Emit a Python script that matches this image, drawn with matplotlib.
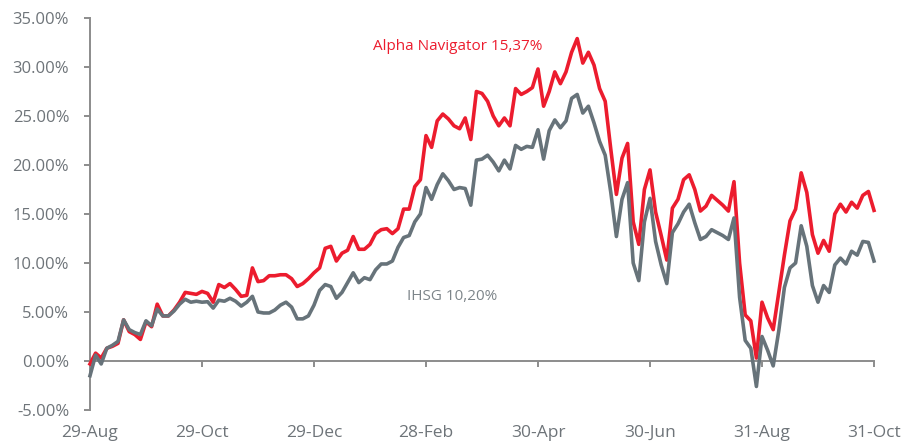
import matplotlib
matplotlib.use("Agg")
import matplotlib.pyplot as plt
import matplotlib.transforms as mtransforms
import numpy as np

plt.rcParams["font.family"] = ["Open Sans", "DejaVu Sans"]

# cumulative return (%), one value per sample
alpha_navigator = [
    -0.3, 0.8, 0.3, 1.3, 1.5, 1.8, 4.2, 3.0, 2.7, 2.2,
    4.0, 3.5, 5.8, 4.6, 4.6, 5.2, 6.0, 7.0, 6.9, 6.8,
    7.1, 6.9, 6.0, 7.8, 7.5, 7.9, 7.3, 6.6, 6.7, 9.5,
    8.1, 8.2, 8.7, 8.7, 8.8, 8.8, 8.4, 7.6, 7.9, 8.4,
    9.0, 9.5, 11.5, 11.7, 10.2, 11.0, 11.3, 12.7, 11.4, 11.4,
    11.9, 13.0, 13.4, 13.5, 13.0, 13.5, 15.5, 15.5, 17.8, 18.5,
    23.0, 21.8, 24.5, 25.2, 24.7, 24.0, 23.7, 24.8, 22.6, 27.5,
    27.3, 26.5, 25.0, 24.0, 24.8, 24.0, 27.8, 27.2, 27.5, 27.9,
    29.8, 26.0, 27.5, 29.5, 28.3, 29.5, 31.5, 32.9, 30.4, 31.5,
    30.2, 27.8, 26.5, 21.6, 17.0, 20.7, 22.2, 14.2, 11.9, 17.5,
    19.5, 15.2, 12.8, 10.3, 15.6, 16.5, 18.5, 19.0, 17.5, 15.3,
    15.8, 16.9, 16.4, 15.9, 15.3, 18.3, 10.0, 4.7, 4.1, 0.3,
    6.0, 4.4, 3.2, 7.0, 10.8, 14.3, 15.5, 19.2, 17.2, 12.9,
    11.0, 12.3, 11.2, 15.0, 16.0, 15.2, 16.2, 15.6, 16.9, 17.3,
    15.37,
]

ihsg = [
    -1.5, 0.6, -0.3, 1.3, 1.6, 2.0, 4.2, 3.2, 2.9, 2.7,
    4.1, 3.6, 5.3, 4.6, 4.6, 5.1, 5.8, 6.3, 6.0, 6.1,
    6.0, 6.05, 5.4, 6.2, 6.1, 6.4, 6.1, 5.6, 6.0, 6.6,
    5.0, 4.9, 4.9, 5.2, 5.7, 6.0, 5.5, 4.3, 4.3, 4.6,
    5.7, 7.2, 7.8, 7.6, 6.4, 7.0, 8.0, 9.0, 8.0, 8.5,
    8.3, 9.3, 9.9, 9.9, 10.2, 11.6, 12.6, 12.8, 14.2, 15.0,
    17.7, 16.5, 18.0, 19.1, 18.4, 17.5, 17.7, 17.6, 15.9, 20.5,
    20.6, 21.0, 20.3, 19.4, 20.5, 19.6, 22.0, 21.6, 21.9, 21.8,
    23.6, 20.6, 23.5, 24.6, 23.8, 24.5, 26.8, 27.2, 25.3, 26.0,
    24.3, 22.4, 21.0, 17.2, 12.7, 16.5, 18.2, 10.0, 8.2, 14.2,
    16.6, 12.2, 9.8, 7.9, 13.1, 14.0, 15.2, 16.0, 14.1, 12.4,
    12.7, 13.4, 13.1, 12.8, 12.4, 14.6, 6.5, 2.1, 1.3, -2.6,
    2.5, 1.1, -0.5, 3.1, 7.5, 9.5, 10.0, 13.8, 11.7, 7.7,
    6.0, 7.7, 7.0, 9.8, 10.5, 9.9, 11.2, 10.8, 12.2, 12.1,
    10.20,
]

tick_labels = ["29-Aug", "29-Oct", "29-Dec", "28-Feb", "30-Apr", "30-Jun", "31-Aug", "31-Oct"]
y_ticks = list(range(-5, 36, 5))

RED = "#ec1c2e"
GREY = "#67737a"
AXIS = "#8c8c8c"
TXT = "#6e7479"

x = np.arange(len(alpha_navigator))
step = (len(x) - 1) // (len(tick_labels) - 1)
tick_pos = x[::step]

fig = plt.figure(figsize=(9.2, 4.45), dpi=100)
ax = fig.add_axes([90 / 920, 35 / 445, 784 / 920, 392 / 445])

ax.plot(x, alpha_navigator, color=RED, lw=2.6, solid_joinstyle="round", clip_on=False, zorder=3)
ax.plot(x, ihsg, color=GREY, lw=2.6, solid_joinstyle="round", clip_on=False, zorder=4)

ax.set_xlim(x[0], x[-1])
ax.set_ylim(-5, 35)

for s in ["top", "right"]:
    ax.spines[s].set_visible(False)
ax.spines["bottom"].set_position(("data", 0))
for s in ["left", "bottom"]:
    ax.spines[s].set_color(AXIS)
    ax.spines[s].set_linewidth(1.4)

ax.set_yticks(y_ticks)
ax.set_yticklabels([f"{v:.2f}%" for v in y_ticks])
ax.tick_params(axis="y", direction="out", length=4, width=1.4, color=AXIS,
               labelcolor=TXT, labelsize=12, pad=11)
ax.set_xticks(tick_pos)
ax.tick_params(axis="x", direction="out", length=4, width=1.4, color=AXIS, labelbottom=False)

# date labels sit at the bottom of the figure, not on the zero line
trans = mtransforms.blended_transform_factory(ax.transData, ax.transAxes)
for p, lab in zip(tick_pos, tick_labels):
    ax.text(p, -0.059, lab, transform=trans, ha="center", va="center",
            fontsize=12.5, color=TXT,
            family=["Liberation Sans Narrow", "Open Sans", "DejaVu Sans"])

ax.text(65.7, 32.1, "Alpha Navigator 15,37%", color=RED, fontsize=11, ha="center", va="center")
ax.text(64.6, 6.6, "IHSG 10,20%", color="#7d858a", fontsize=11, ha="center", va="center")

fig.savefig("out.png", dpi=100)
